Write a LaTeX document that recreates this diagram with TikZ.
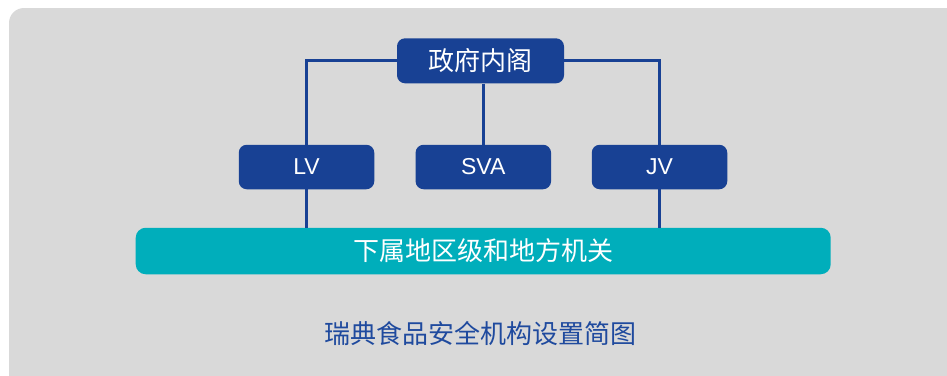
\documentclass[tikz,border=0pt]{standalone}
\usepackage{fontspec}
\setmainfont{Liberation Sans}
\newfontfamily\cjk{Noto Sans CJK SC}
\definecolor{bgGray}{HTML}{D9D9D9}
\definecolor{boxBlue}{HTML}{184194}
\definecolor{boxTeal}{HTML}{00AEBB}
\definecolor{capBlue}{HTML}{1F4A9E}
\tikzset{
  bluebox/.style={fill=boxBlue, rounded corners=8pt, inner sep=0pt, text=white,
    minimum height=44.5pt},
  tealbox/.style={fill=boxTeal, rounded corners=10pt, inner sep=0pt, text=white,
    minimum height=46.5pt, minimum width=695pt},
  link/.style={draw=boxBlue, line width=3pt},
  latintext/.style={font=\fontsize{23}{27}\selectfont},
  cjktext/.style={font=\cjk\fontsize{26}{30}\selectfont},
}
\begin{document}
\begin{tikzpicture}[x=1pt, y=-1pt]
\useasboundingbox (0,0) rectangle (947,375);
\fill[bgGray, rounded corners=15pt] (9,8) rectangle (980,400);
\node[bluebox, cjktext, minimum width=167pt, minimum height=45pt] (top) at (480.5,60.8) {政府内阁};
\node[bluebox, latintext, minimum width=135.5pt] (lv) at (306.5,167) {LV};
\node[bluebox, latintext, minimum width=135.5pt] (sva) at (483.3,167) {SVA};
\node[bluebox, latintext, minimum width=135.5pt] (jv) at (659.5,167) {JV};
\node[tealbox, cjktext] (low) at (483.2,251) {下属地区级和地方机关};
\node[cjktext, text=capBlue, inner sep=0pt] (cap) at (480.5,334) {瑞典食品安全机构设置简图};
\draw[link] (top.west) -| (lv.north);
\draw[link] (top.east) -| (jv.north);
\draw[link] (top.south -| sva.north) -- (sva.north);
\draw[link] (lv.south) -- (lv.south |- low.north);
\draw[link] (jv.south) -- (jv.south |- low.north);
\end{tikzpicture}
\end{document}
